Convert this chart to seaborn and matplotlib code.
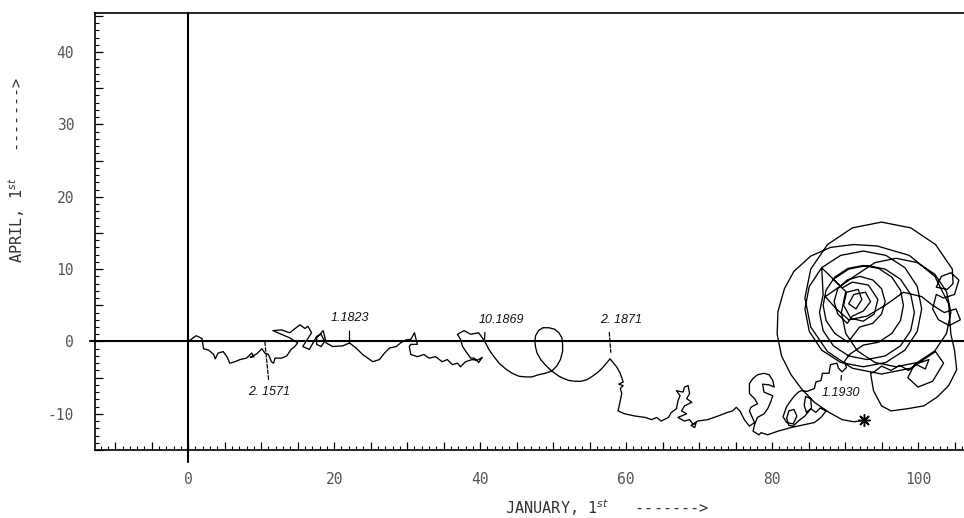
import matplotlib
matplotlib.use("Agg")
import matplotlib.pyplot as plt
import seaborn as sns
from matplotlib.ticker import MultipleLocator, FuncFormatter

# ---------------- data ----------------
# trajectory, 1571 -> 1823
x_1571 = [0.0, 1.1, 1.9, 2.1, 2.8, 3.5, 3.7, 4.1, 4.8, 5.3,
          5.7, 6.4, 7.1, 8.0, 8.7, 9.0, 8.5, 9.4, 10.1, 10.5,
          11.0, 11.4, 11.7, 11.9, 12.8, 13.5, 14.1, 14.6, 15.0, 13.9,
          11.6, 12.8, 13.9, 15.3, 16.0, 16.4, 16.9, 15.7, 16.6, 17.1,
          17.6, 18.2, 18.7, 18.2, 17.6, 17.6, 18.5, 18.9, 19.8, 21.2,
          22.1, 23.0, 23.9, 25.3, 26.2, 26.9, 27.6, 28.5, 29.1, 29.8,
          30.5]
y_1571 = [0.0, 0.8, 0.4, -1.0, -1.2, -1.8, -2.4, -1.6, -1.4, -2.1,
          -3.0, -2.8, -2.5, -2.3, -1.6, -2.1, -2.2, -1.7, -1.0, -1.6,
          -1.8, -2.8, -3.0, -2.3, -2.3, -2.0, -1.1, -0.7, -0.2, 0.5,
          1.5, 1.6, 1.2, 2.3, 1.8, 2.1, 1.2, -0.7, -1.1, -0.2,
          0.7, 1.0, 0.0, -0.7, -0.4, 0.5, 1.5, -0.2, -0.7, -0.6,
          -0.2, -0.9, -1.8, -2.8, -2.5, -1.6, -0.9, -0.7, -0.2, 0.2,
          0.3]

# 1823 -> 1869
x_1823 = [31.0, 31.4, 30.5, 30.3, 30.5, 31.4, 32.3, 33.0, 33.9, 34.8,
          35.5, 36.2, 36.9, 37.3, 38.0, 38.9, 39.6, 40.3, 39.8, 39.2,
          38.7, 38.2, 37.6, 37.3, 36.9, 37.8, 38.7, 39.8, 40.3]
y_1823 = [1.2, -0.4, -0.4, -0.7, -1.8, -2.1, -1.8, -2.3, -2.1, -2.8,
          -2.5, -3.2, -3.0, -3.5, -2.8, -2.5, -2.6, -2.2, -2.9, -2.3,
          -2.3, -1.6, -0.7, 0.3, 1.0, 1.5, 1.0, 1.2, 0.5]

# 1869 -> 1871 (the big loop)
x_1869 = [40.8, 41.2, 41.9, 42.6, 43.5, 44.4, 45.3, 46.2, 47.1, 48.0,
          48.9, 49.8, 50.5, 51.0, 51.3, 51.3, 51.2, 50.8, 50.2, 49.4,
          48.6, 48.0, 47.6, 47.5, 47.6, 47.8, 48.3, 48.9, 49.5, 50.1,
          50.8, 51.4, 52.2, 53.0, 53.8, 54.6, 55.4, 56.2, 56.8, 57.3,
          57.8]
y_1869 = [-0.3, -1.1, -2.1, -3.0, -3.8, -4.4, -4.8, -4.9, -4.9, -4.6,
          -4.4, -4.1, -3.4, -2.5, -1.4, -0.4, 0.5, 1.2, 1.7, 1.9,
          1.9, 1.5, 0.8, 0.0, -0.8, -1.6, -2.5, -3.2, -3.8, -4.3,
          -4.8, -5.1, -5.4, -5.5, -5.5, -5.3, -4.8, -4.2, -3.6, -3.0,
          -2.4]

# 1871 -> 1930
x_1871 = [58.7, 59.2, 59.6, 59.0, 59.6, 59.2, 59.4, 59.2, 58.9, 59.8,
          61.2, 62.6, 63.5, 64.2, 64.8, 65.8, 66.2, 66.9, 67.1, 67.4,
          66.9, 67.8, 68.0, 68.5, 68.7, 68.3, 69.0, 68.0, 67.6, 68.3,
          67.1, 68.0, 68.7, 69.2, 69.6, 69.4, 68.9, 69.8, 71.2, 72.6,
          73.9, 74.6, 75.1, 75.6, 76.2, 76.9, 77.6, 76.9, 77.1, 78.0,
          77.6, 76.9, 76.9, 77.4, 78.0, 78.9, 79.6, 80.1, 80.3, 79.6,
          78.7, 78.9, 80.1, 79.8, 79.4, 78.9, 78.0, 77.6, 77.4, 78.2,
          78.5, 79.4, 80.8, 82.6, 84.4, 85.8, 86.7, 87.4, 86.6, 86.0,
          85.3, 84.7, 84.4, 84.6, 85.3, 85.4, 84.5, 83.6, 82.9, 82.3,
          82.0, 82.3, 83.0, 83.4, 82.9, 82.0, 81.5, 82.0, 82.4, 83.0,
          83.6, 84.0, 84.8, 85.8, 86.0, 86.7, 86.9, 87.8, 88.0, 88.9,
          89.1, 89.6, 90.2, 89.9]
y_1871 = [-3.5, -4.4, -5.6, -5.9, -6.1, -6.5, -7.2, -8.2, -9.6, -10.0,
          -10.3, -10.5, -10.8, -10.5, -11.0, -10.5, -9.8, -9.3, -8.2, -7.5,
          -6.8, -7.0, -6.3, -6.1, -7.2, -7.9, -8.4, -8.9, -9.6, -10.0,
          -10.5, -11.0, -10.8, -11.5, -11.2, -11.9, -11.6, -11.0, -10.8, -10.3,
          -9.8, -9.6, -9.1, -9.6, -10.8, -11.7, -11.2, -9.6, -9.1, -8.6,
          -7.9, -7.2, -5.8, -5.1, -4.6, -4.4, -4.6, -5.4, -6.3, -6.0,
          -5.9, -7.0, -7.5, -8.4, -9.3, -10.0, -10.5, -11.5, -12.4, -12.9,
          -12.6, -12.9, -12.4, -11.9, -11.5, -11.2, -10.5, -9.6, -9.2, -9.8,
          -9.3, -9.8, -8.8, -7.6, -7.9, -9.2, -10.3, -11.0, -11.7, -11.6,
          -10.6, -9.6, -9.4, -10.3, -11.4, -11.2, -10.4, -9.0, -8.4, -7.6,
          -7.0, -6.8, -6.9, -6.5, -5.6, -5.4, -4.4, -4.4, -3.2, -3.0,
          -3.7, -4.2, -3.6, -2.8]

# 1930 -> end (the large loops)
x_1930 = [90.6, 92.5, 94.6, 96.4, 97.6, 98.0, 97.6, 96.4, 94.6, 92.5,
          90.4, 88.6, 87.4, 87.0, 87.4, 88.6, 90.4, 92.0, 93.8, 95.0,
          95.5, 95.0, 93.8, 92.0, 90.3, 89.0, 88.5, 89.0, 90.3, 91.0,
          92.5, 93.5, 92.8, 91.2, 90.5, 91.5, 92.3, 91.8, 90.2, 89.8,
          90.8, 92.5, 94.0, 94.5, 93.2, 91.0, 89.6, 86.8, 85.1, 84.5,
          85.1, 86.8, 89.4, 92.5, 95.6, 98.2, 99.9, 100.5, 99.9, 98.2,
          95.6, 92.5, 89.4, 86.8, 87.0, 86.5, 87.0, 88.4, 90.5, 93.0,
          95.5, 97.6, 99.0, 99.5, 99.0, 97.6, 95.5, 93.0, 90.5, 88.4,
          90.1, 89.5, 90.1, 91.7, 94.1, 97.0, 99.9, 102.3, 103.9, 104.5,
          103.9, 102.3, 99.9, 97.0, 94.1, 91.7,
          87.3, 88.8, 90.5, 93.0, 95.5, 98.0, 100.5, 102.0, 103.6, 105.2,
          105.8, 104.3, 102.8, 102.0, 102.5, 103.5, 105.0, 105.6, 104.5, 103.2,
          102.5, 104.0, 104.8, 104.7, 102.4, 99.0, 95.0, 91.0, 87.6, 85.3,
          84.5, 85.3, 87.6, 91.0, 95.0, 99.0, 102.4, 103.5, 102.0, 100.0,
          98.6, 99.5, 101.5, 101.0, 99.8, 98.7, 97.5, 96.3, 95.0, 94.0,
          93.5, 93.9, 95.0, 96.3, 98.5, 100.8, 102.6, 104.2, 105.3, 105.0,
          104.5, 104.2, 102.3, 98.8, 94.4, 91.2, 88.0, 85.3, 83.0, 81.7,
          80.8, 80.7, 81.3, 82.6, 84.0, 85.8, 87.8, 89.6, 91.2, 92.6]
y_1930 = [-1.8, -0.5, -0.1, 1.1, 2.9, 5.0, 7.1, 8.9, 10.1, 10.5,
          10.1, 8.9, 7.1, 5.0, 2.9, 1.1, -0.1, 2.0, 2.5, 3.8,
          5.5, 7.3, 8.5, 9.0, 8.5, 7.3, 5.5, 3.8, 2.5, 3.5,
          4.2, 5.5, 6.8, 6.5, 5.2, 4.5, 5.8, 7.2, 6.8, 5.0,
          3.2, 2.8, 3.8, 5.8, 7.8, 8.2, 7.4, 10.2, 7.6, 4.5,
          1.4, -1.2, -2.9, -3.5, -2.9, -1.2, 1.4, 4.5, 7.6, 10.2,
          11.9, 12.5, 11.9, 10.2, 6.5, 4.0, 1.5, -0.6, -2.0, -2.5,
          -2.0, -0.6, 1.5, 4.0, 6.5, 8.6, 10.0, 10.5, 10.0, 8.6,
          6.9, 4.0, 1.1, -1.3, -2.9, -3.5, -2.9, -1.3, 1.1, 4.0,
          6.9, 9.3, 10.9, 11.5, 10.9, 9.3,
          6.2, 4.5, 3.0, 3.5, 5.0, 6.8, 6.2, 5.0, 4.0, 4.5,
          3.0, 2.2, 3.0, 4.5, 6.5, 6.0, 6.5, 8.5, 9.5, 9.0,
          7.5, 7.2, 8.0, 10.0, 13.4, 15.7, 16.5, 15.7, 13.4, 10.0,
          6.0, 2.0, -1.4, -3.7, -4.5, -3.7, -1.4, -3.0, -5.5, -6.3,
          -5.0, -3.2, -2.5, -3.8, -3.2, -4.0, -3.3, -4.0, -3.4, -4.2,
          -4.4, -6.8, -8.9, -9.6, -9.3, -8.9, -7.7, -6.1, -3.9, -1.2,
          1.0, 5.2, 9.0, 11.9, 13.2, 13.4, 13.0, 11.8, 9.7, 7.3,
          4.1, 1.0, -2.0, -4.6, -6.5, -8.4, -9.8, -10.8, -11.1, -10.9]

# epoch annotations
ann_text = ["2. 1571", "1.1823", "10.1869", "2. 1871", "1.1930"]
ann_point_x = [10.5, 22.1, 40.6, 57.9, 89.5]
ann_point_y = [0.0, -0.3, 0.3, -1.5, -4.7]
ann_label_x = [11.1, 22.1, 42.9, 59.3, 89.4]
ann_label_y = [-7.0, 3.2, 3.0, 3.0, -7.1]

x_ticklabels = [0, 20, 40, 60, 80, 100]
y_ticklabels = [-10, 0, 10, 20, 30, 40]
x_title = "JANUARY, 1$^{st}$   ------->"
y_title = "APRIL, 1$^{st}$   ------->"

# ---------------- drawing ----------------
sns.set_theme(style="white")
plt.rcParams["font.family"] = ["DejaVu Sans Mono", "DejaVu Sans"]
plt.rcParams["axes.unicode_minus"] = False

W, H = 964, 518
fig = plt.figure(figsize=(W / 100, H / 100), dpi=100)
ax = fig.add_axes([95 / W, 68 / H, 1 - 95 / W, 437 / H])

path_x = x_1571 + x_1823 + x_1869 + x_1871 + x_1930
path_y = y_1571 + y_1823 + y_1869 + y_1871 + y_1930

sns.lineplot(x=path_x, y=path_y, sort=False, estimator=None,
             color="black", linewidth=0.95, ax=ax)
sns.scatterplot(x=[path_x[-1]], y=[path_y[-1]], marker=(8, 2, 0), s=70,
                color="black", edgecolor="black", linewidth=1.1, ax=ax, zorder=5)

ax.set_xlim(-12.77, 106.3)
ax.set_ylim(-15.0, 45.4)

# reference lines through the origin
ax.axhline(0, xmin=-0.006, xmax=1, color="black", lw=1.5, clip_on=False, zorder=1)
ax.axvline(0, ymin=-0.027, ymax=1, color="black", lw=1.5, clip_on=False, zorder=1)

# epoch labels with leader strokes
relpos = [(0.5, 1.0), (0.5, 0.0), (0.15, 0.0), (0.21, 0.0), (0.5, 1.0)]
dashed = [True, False, False, True, False]
for i, t in enumerate(ann_text):
    ax.annotate(t, xy=(ann_point_x[i], ann_point_y[i]),
                xytext=(ann_label_x[i], ann_label_y[i]),
                ha="center", va="center", fontsize=9, style="italic",
                family=["Liberation Sans", "DejaVu Sans"], color="#111111",
                arrowprops=dict(arrowstyle="-", lw=0.9, color="black",
                                shrinkA=2.5, shrinkB=0, relpos=relpos[i],
                                linestyle=(0, (3, 1.5)) if dashed[i] else "-"))

# spines and ticks
for side in ["left", "top", "bottom"]:
    ax.spines[side].set_color("black")
    ax.spines[side].set_linewidth(1.2)
ax.spines["right"].set_visible(False)

ax.xaxis.set_major_locator(MultipleLocator(5))
ax.xaxis.set_minor_locator(MultipleLocator(1))
ax.yaxis.set_major_locator(MultipleLocator(5))
ax.yaxis.set_minor_locator(MultipleLocator(1))


def fmt(labels):
    def f(v, pos):
        r = int(round(v))
        return str(r) if abs(v - r) < 1e-6 and r in labels else ""
    return FuncFormatter(f)


ax.xaxis.set_major_formatter(fmt(x_ticklabels))
ax.yaxis.set_major_formatter(fmt(y_ticklabels))

ax.tick_params(which="both", direction="in", color="black",
               bottom=True, left=True, top=False, right=False)
ax.tick_params(which="major", length=6, width=0.9)
ax.tick_params(which="minor", length=3, width=0.8)
ax.tick_params(axis="x", which="major", pad=16, labelsize=10.5, labelcolor="#555555")
ax.tick_params(axis="y", which="major", pad=15, labelsize=10.5, labelcolor="#555555")

ax.set_xlabel(x_title, fontsize=11, color="#333333")
ax.set_ylabel(y_title, fontsize=11, color="#333333")
ax.xaxis.set_label_coords(0.59, -0.108)
ax.yaxis.set_label_coords(-0.078, 0.64)

ax.grid(False)
fig.savefig("out.png", dpi=100)
